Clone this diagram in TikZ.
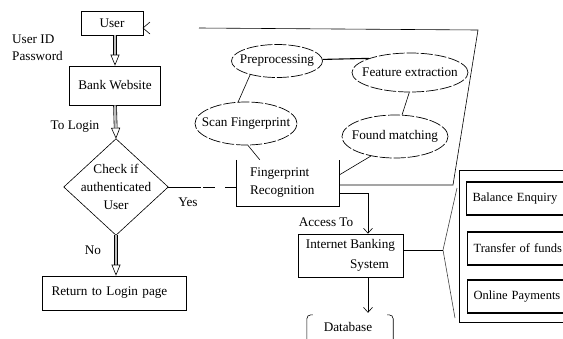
\documentclass[tikz,border=0pt]{standalone}
\usepackage{fontspec}
\setmainfont{Liberation Serif}
\usetikzlibrary{arrows.meta,shapes.geometric}
\begin{document}
\begin{tikzpicture}[x=1pt,y=-1pt,
  font=\fontsize{13.2}{18}\selectfont,
  box/.style={draw, line width=0.7pt, inner sep=0pt},
  ell/.style={draw, ellipse, inner sep=0pt, line width=0.7pt, dash pattern=on 12pt off 2pt},
  dbl/.style={double=black!25, double distance=2.4pt, line width=0.6pt, -{Triangle[open,length=11pt,width=9pt]}},
  arr/.style={-{Straight Barb[length=5pt,width=9pt]}, line width=0.6pt},
  ln/.style={line width=0.6pt},
  lbl/.style={inner sep=0pt},
  optbox/.style={draw, line width=1.1pt, inner ysep=0pt, inner xsep=6pt, minimum height=33pt, text width=120pt, align=left, anchor=west, font=\fontsize{12.5}{15}\selectfont}]
\useasboundingbox (0,0) rectangle (563,338);
\begin{scope}
\clip (0,0) rectangle (563,338);
% left column
\node[box, minimum width=62pt, minimum height=24pt] (user) at (112,23) {User};
\node[lbl, align=left, anchor=west, font=\fontsize{13.2}{17}\selectfont] (uid) at (12,47.5) {User ID\\Password};
\node[box, minimum width=91pt, minimum height=39pt] (bank) at (115,85.5) {Bank Website};
\node[lbl] (tologin) at (75,127) {To Login};
\node[minimum width=104pt, minimum height=96pt, inner sep=0pt, align=center] (chk) at (116,187) {\mbox{}\\[-9pt]Check if\\authenticated\\User};
\draw[ln] (chk.north) -- (chk.east) -- (chk.south) -- (chk.west) -- cycle;
\node[lbl] (yes) at (188,202) {Yes};
\node[lbl] (no) at (93,250) {No};
\node[box, minimum height=34pt, text width=126pt, inner xsep=9pt, align=left] (ret) at (114.5,293) {Return to Login page};
\draw[dbl] (bank.north |- user.south) -- (bank.north);
\draw[dbl] (bank.south) -- (chk.north);
\draw[dbl] (chk.south) -- (chk.south |- ret.north);
\draw[ln] (150,22) -- (143,28) -- (150,34);
% fingerprint part
\node[minimum width=103pt, minimum height=46pt, inner ysep=0pt, inner xsep=14pt, text width=75pt, align=left] (fp) at (287.5,183) {Fingerprint\\Recognition};
\draw[ln] (fp.north west) -- (fp.south west) -- (fp.south east) -- (fp.north east);
\draw[ln, dash pattern=on 33pt off 2pt on 12pt off 10pt on 12pt] (chk.east) -- (fp.west |- chk.east);
\node[ell, minimum width=91pt, minimum height=33pt] (pre) at (277,61) {\makebox[0pt]{Preprocessing}};
\node[ell, minimum width=116pt, minimum height=39pt] (feat) at (410,72.5) {\makebox[0pt]{Feature extraction}};
\node[ell, minimum width=102pt, minimum height=43pt] (scan) at (246,123.5) {\makebox[0pt]{Scan Fingerprint}};
\node[ell, minimum width=106pt, minimum height=43pt] (found) at (395,136.5) {\makebox[0pt]{Found matching}};
\draw[ln] (pre.207) -- (scan.110);
\draw[line width=1.1pt] (pre.2) -- (feat.161);
\draw[ln] (feat.268) -- (found.72);
\draw[ln] (scan.275) -- ([xshift=24pt]fp.north west);
\draw[ln] (found.219) -- ([yshift=8pt]fp.east);
% frame
\coordinate (ftl) at (199,28);
\coordinate (ftr) at (478,30);
\coordinate (fbr) at (453,185);
\draw[ln] (ftl) -- (ftr) -- (fbr) -- ([yshift=-2pt]fp.east);
% internet banking
\node[box, minimum width=105pt, minimum height=43pt, align=center, font=\fontsize{13.2}{20}\selectfont] (ib) at (350.5,255.5) {Internet Banking\\\hspace*{38pt}System};
\node[lbl] (acc) at (326,222) {Access To};
\draw[arr] ([yshift=-10pt]fp.east) -| ([xshift=17.5pt]ib.north);
\node[minimum width=86pt, minimum height=24pt, inner sep=0pt] (db) at (350,327) {\makebox[0pt]{\hspace*{-4pt}Database}};
\draw[ln, rounded corners=4pt] (db.south west) -- (db.north west) -- ([xshift=6pt]db.north west);
\draw[ln, rounded corners=4pt] ([xshift=-6pt]db.north east) -- (db.north east) -- (db.south east);
\draw[arr] ([xshift=17.5pt]ib.south) -- ([xshift=18pt,yshift=2pt]db.north);
% brace
\coordinate (bt) at (457,188);
\coordinate (bm) at (443,250);
\coordinate (bb) at (455,318);
\draw[line width=0.6pt, black!75] (bt) -- (bm) -- (bb);
\draw[ln] ([yshift=5.5pt]ib.east) -- (bm);
% right panel
\draw[line width=0.8pt] (459,170) rectangle (620,322);
\node[optbox] (bal) at (466,198.5) {Balance Enquiry};
\node[optbox] (tra) at (467,248.5) {Transfer of funds};
\node[optbox] (onl) at (467,296.5) {Online Payments};
\end{scope}
\end{tikzpicture}
\end{document}
